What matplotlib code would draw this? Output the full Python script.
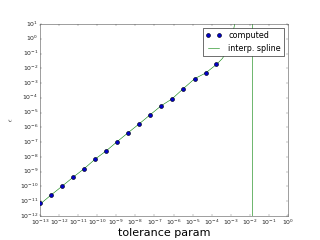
import numpy as np
import matplotlib
matplotlib.use("Agg")
import matplotlib.pyplot as plt
from matplotlib.ticker import LogLocator, NullLocator

# computed points (log10 values)
tol_exp = [-12.98, -12.42, -11.85, -11.27, -10.69, -10.10, -9.52, -8.96, -8.40,
           -7.79, -7.22, -6.64, -6.07, -5.49, -4.89, -4.32, -3.75]
err_exp = [-11.15, -10.58, -9.99, -9.38, -8.80, -8.14, -7.58, -6.97, -6.38,
           -5.75, -5.14, -4.53, -4.06, -3.38, -2.70, -2.32, -1.74]

# interpolating spline as drawn (log10 values; tail leaves the axes)
spl_x_exp = [-13.0, -12.42, -11.85, -11.27, -10.69, -10.10, -9.52, -8.96, -8.40,
             -7.79, -7.22, -6.64, -6.07, -5.49, -4.89, -4.32, -3.75,
             -3.45, -3.21, -2.9, -2.5, -1.86, -1.85]
spl_y_exp = [-11.2, -10.58, -9.99, -9.38, -8.80, -8.14, -7.58, -6.97, -6.38,
             -5.75, -5.14, -4.53, -4.06, -3.38, -2.70, -2.32, -1.74,
             -1.35, -0.88, 0.3, 3.0, 30.0, -30.0]

plt.style.use('classic')
fig = plt.figure(figsize=(8, 6), dpi=40)
ax = fig.add_subplot(111)

tol = 10.0 ** np.array(tol_exp)
err = 10.0 ** np.array(err_exp)
sx = 10.0 ** np.array(spl_x_exp)
sy = 10.0 ** np.array(spl_y_exp)

ax.loglog(sx, sy, 'g-', label='interp. spline', zorder=2)
ax.loglog(tol, err, 'o', color='#0000cc', markersize=7, markeredgecolor='#000022',
          markeredgewidth=1.2, label='computed', zorder=3)

ax.set_xlim(1e-13, 1e0)
ax.set_ylim(1e-12, 1e1)
ax.xaxis.set_major_locator(LogLocator(base=10, numticks=30))
ax.yaxis.set_major_locator(LogLocator(base=10, numticks=30))
ax.xaxis.set_minor_locator(NullLocator())
ax.yaxis.set_minor_locator(NullLocator())
ax.tick_params(which='major', labelsize=11, pad=3, colors='#333333',
               labelcolor='#222222')
for s in ax.spines.values():
    s.set_color('#555555')

ax.set_xlabel('tolerance param', fontsize=20, labelpad=1)
ax.set_ylabel(r'$\epsilon$', labelpad=8)
h, l = ax.get_legend_handles_labels()
ax.legend(h[::-1], l[::-1], loc='upper right')

fig.savefig('out.png', dpi=40)
